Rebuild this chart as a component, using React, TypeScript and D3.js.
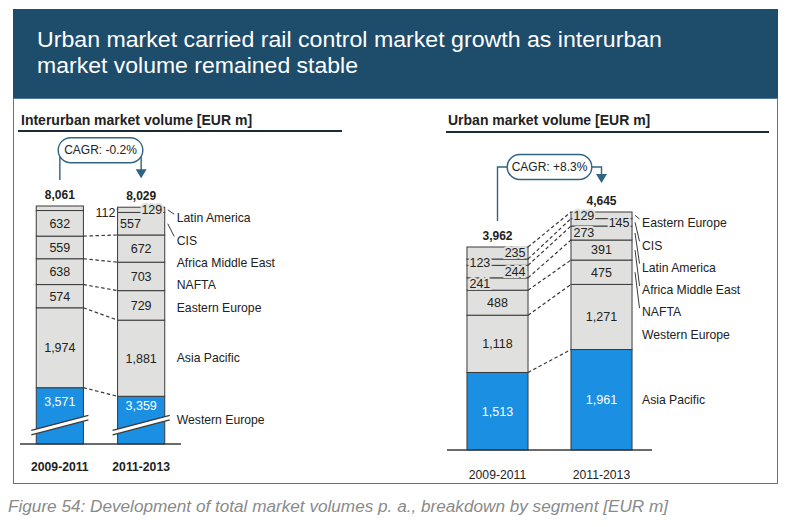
import React from "react";
import * as d3 from "d3";

// ---------- data ----------
const periods = ["2009-2011", "2011-2013"];

// interurban, stacked bottom -> top
const interurbanSegments = ["Western Europe", "Asia Pacific", "Eastern Europe", "NAFTA", "Africa Middle East", "CIS", "Latin America"];
const interurban2009 = [3571, 1974, 574, 638, 559, 632, 112];
const interurban2011 = [3359, 1881, 729, 703, 672, 557, 129];
const interurbanTotals = [8061, 8029];
const interurbanCAGR = "CAGR: -0.2%";

// urban, stacked bottom -> top
const urbanSegments = ["Asia Pacific", "Western Europe", "NAFTA", "Africa Middle East", "Latin America", "CIS", "Eastern Europe"];
const urban2009 = [1513, 1118, 488, 241, 244, 123, 235];
const urban2011 = [1961, 1271, 475, 391, 273, 145, 129];
const urbanTotals = [3962, 4645];
const urbanCAGR = "CAGR: +8.3%";

const titleLines = ["Urban market carried rail control market growth as interurban", "market volume remained stable"];
const interurbanTitle = "Interurban market volume [EUR m]";
const urbanTitle = "Urban market volume [EUR m]";
const caption = "Figure 54: Development of total market volumes p. a., breakdown by segment [EUR m]";

// label placement (style): c = centre, l = left inside, r = right inside, out = outside right
const interurbanAlign = [
  ["c", "c", "c", "c", "c", "c", "out"],
  ["c", "c", "c", "c", "c", "l", "r"],
];
const urbanAlign = [
  ["c", "c", "c", "l", "r", "l", "r"],
  ["c", "c", "c", "c", "l", "r", "l"],
];

// ---------- style ----------
const SANS = "'Liberation Sans',Arial,Helvetica,sans-serif";
const GRAY = "#e0e0de";
const BLUE = "#1b8fe2";
const EDGE = "#3a3a3a";
const TEAL = "#2f6482";
const INK = "#222";
const fmt = d3.format(",");
const NAME_STEP = 22.3;
const NUM_SIZE = 12.5;
const NAME_SIZE = 12.2;
const BREAK_SLOPE = 7.5;
const BREAK_GAP = 4.5;

type PanelProps = {
  series: number[][];
  totals: number[];
  names: string[];
  align: string[][];
  x: d3.ScaleBand<string>;
  y: d3.ScaleLinear<number, number>;
  cagr: string;
  bubbleLift: number;
  breakAt?: number;
  catBold: boolean;
  catGap: number;
  dashAll: boolean;
  leaderMax: number;
  nameGap: number;
};

function Panel(props: PanelProps) {
  const { series, totals, names, align, x, y, cagr, bubbleLift, breakAt, catBold, catGap, dashAll, leaderMax, nameGap } = props;
  const table = periods.map((p, i) => {
    const row: any = { period: p };
    names.forEach((n, j) => (row[n] = series[i][j]));
    return row;
  });
  const stacked = d3.stack<any>().keys(names)(table);
  const n = names.length;
  const bw = x.bandwidth();
  const base = y.range()[0];
  const xs = periods.map((p) => x(p) as number);
  const cs = xs.map((v) => v + bw / 2);
  const [r0, r1] = x.range();
  const tops = stacked[n - 1].map((d) => y(d[1]));
  const breakY = breakAt !== undefined ? y(breakAt) : undefined;

  const elements: any[] = [];

  // segments
  stacked.forEach((layer, j) =>
    layer.forEach((d, i) => {
      elements.push(
        <rect key={`s${j}-${i}`} x={xs[i]} y={y(d[1])} width={bw} height={Math.max(0, y(d[0]) - y(d[1]))}
          fill={j === 0 ? BLUE : GRAY} stroke={EDGE} strokeWidth={1} />
      );
    })
  );

  // axis break
  if (breakY !== undefined) {
    const cy = breakY;
    xs.forEach((bx, i) => {
      const a = bx - 5, b = bx + bw + 5, s = BREAK_SLOPE, t = BREAK_GAP;
      elements.push(
        <g key={`br${i}`}>
          <polygon points={`${a},${cy + s} ${b},${cy - s} ${b},${cy - s + t} ${a},${cy + s + t}`} fill="#fff" />
          <line x1={a} y1={cy + s} x2={b} y2={cy - s} stroke={EDGE} strokeWidth={1.3} />
          <line x1={a} y1={cy + s + t} x2={b} y2={cy - s + t} stroke={EDGE} strokeWidth={1.3} />
        </g>
      );
    });
  }

  // dashed connectors
  stacked.forEach((layer, j) => {
    if (dashAll || j <= n - 3) {
      elements.push(
        <line key={`dl${j}`} x1={xs[0] + bw} y1={y(layer[0][1])} x2={xs[1]} y2={y(layer[1][1])}
          stroke={EDGE} strokeWidth={1.2} strokeDasharray="3.5,2.5" />
      );
    }
  });

  // segment labels
  stacked.forEach((layer, j) =>
    layer.forEach((d, i) => {
      const a = align[i][j];
      let cy = (y(d[0]) + y(d[1])) / 2;
      if (j === 0 && breakY !== undefined) cy = (y(d[1]) + breakY - BREAK_SLOPE) / 2;
      const txt = fmt(series[i][j]);
      const common = { fontFamily: SANS, fontSize: NUM_SIZE, dy: "0.35em" };
      if (a === "c") {
        elements.push(
          <text key={`l${j}-${i}`} x={xs[i] + bw / 2} y={cy} textAnchor="middle" fill={j === 0 ? "#fff" : INK} {...common}>{txt}</text>
        );
      } else if (a === "l" || a === "r") {
        elements.push(
          <text key={`l${j}-${i}`} x={a === "l" ? xs[i] + 2.5 : xs[i] + bw - 2.5} y={cy}
            textAnchor={a === "l" ? "start" : "end"} fill={INK} stroke={GRAY} strokeWidth={4}
            style={{ paintOrder: "stroke" }} {...common}>{txt}</text>
        );
      } else {
        const lx = xs[i] + bw + 12;
        elements.push(
          <text key={`l${j}-${i}`} x={lx} y={cy + 4} textAnchor="start" fill={INK} {...common}>{txt}</text>
        );
        const other = stacked[j][1 - i];
        elements.push(
          <line key={`ol${j}`} x1={lx + 22} y1={cy + 2} x2={xs[1 - i]} y2={(y(other[0]) + y(other[1])) / 2 - 2}
            stroke={EDGE} strokeWidth={1.2} strokeDasharray="3,3" />
        );
      }
    })
  );

  // segment names at right of second bar, top-down
  const nameX = xs[1] + bw + nameGap;
  let prev = tops[1] + 11 - NAME_STEP;
  for (let j = n - 1; j >= 0; j--) {
    const d = stacked[j][1];
    const top = y(d[1]), bot = y(d[0]);
    const center = (top + bot) / 2;
    const ly = Math.max(center, prev + NAME_STEP);
    prev = ly;
    elements.push(
      <text key={`n${j}`} x={nameX} y={ly} dy="0.35em" fontFamily={SANS} fontSize={NAME_SIZE} fill={INK}>{names[j]}</text>
    );
    if (bot - top < leaderMax) {
      elements.push(
        <line key={`ld${j}`} x1={xs[1] + bw + 3} y1={center} x2={nameX - 2.5} y2={ly - 4}
          stroke={EDGE} strokeWidth={1} />
      );
    }
  }

  // baseline
  elements.push(<line key="axis" x1={r0} x2={r1} y1={base} y2={base} stroke={EDGE} strokeWidth={1.3} />);

  // category labels
  periods.forEach((p, i) =>
    elements.push(
      <text key={`c${i}`} x={cs[i]} y={base + catGap} textAnchor="middle" fontFamily={SANS} fontSize={12.2}
        fontWeight={catBold ? "bold" : "normal"} fill={INK}>{p}</text>
    )
  );

  // totals
  totals.forEach((t, i) =>
    elements.push(
      <text key={`t${i}`} x={cs[i]} y={tops[i] - 7} textAnchor="middle" fontFamily={SANS} fontSize={12}
        fontWeight="bold" fill={INK}>{fmt(t)}</text>
    )
  );

  // CAGR bubble with connector and arrow
  const tip = tops[1] - 29;
  const by = tip - bubbleLift;
  const bwid = cagr.length * 6.6 + 12;
  const bh = 25;
  const bcx = (cs[0] + cs[1]) / 2;
  elements.push(
    <g key="cagr">
      <polyline points={`${cs[0]},${tops[0] - 26} ${cs[0]},${by} ${bcx},${by}`} fill="none" stroke={TEAL} strokeWidth={1.4} />
      <polyline points={`${bcx},${by} ${cs[1]},${by} ${cs[1]},${tip - 8}`} fill="none" stroke={TEAL} strokeWidth={1.4} />
      <path d={`M${cs[1] - 5.5},${tip - 9} L${cs[1] + 5.5},${tip - 9} L${cs[1]},${tip} Z`} fill={TEAL} />
      <rect x={bcx - bwid / 2} y={by - bh / 2} width={bwid} height={bh} rx={bh / 2} fill="#fff" stroke={TEAL} strokeWidth={1.4} />
      <text x={bcx} y={by} dy="0.35em" textAnchor="middle" fontFamily={SANS} fontSize={12} fill={INK}>{cagr}</text>
    </g>
  );

  return <g>{elements}</g>;
}

export default function App() {
  const W = 791, H = 527;

  // interurban: axis break hides the lower part of the Western Europe segment
  const interurbanHidden = 2180;
  const interurbanBreak = 2700;
  const xI = d3.scaleBand<string>().domain(periods).range([20, 181]).paddingInner(0.42).paddingOuter(0.2);
  const yI = d3.scaleLinear().domain([interurbanHidden, d3.max([d3.sum(interurban2009), d3.sum(interurban2011)]) as number])
    .range([444, 206]).clamp(true);

  const xU = d3.scaleBand<string>().domain(periods).range([447, 652]).paddingInner(0.413).paddingOuter(0.192);
  const yU = d3.scaleLinear().domain([0, d3.max([d3.sum(urban2009), d3.sum(urban2011)]) as number]).range([450, 212]);

  return (
    <svg width={W} height={H} style={{ position: "absolute", left: 0, top: 0, background: "#fff" }}>
      <rect x={0} y={0} width={W} height={H} fill="#fff" />
      {/* header */}
      <rect x={13} y={9} width={765} height={90} fill="#1e4c6b" />
      <text x={37} y={47} fontFamily={SANS} fontSize={22.5} fill="#fff" textLength={625} lengthAdjust="spacingAndGlyphs">{titleLines[0]}</text>
      <text x={37} y={73} fontFamily={SANS} fontSize={22.5} fill="#fff" textLength={321} lengthAdjust="spacingAndGlyphs">{titleLines[1]}</text>
      {/* panel */}
      <rect x={13.5} y={98.5} width={764} height={385} fill="#fff" stroke="#4b79a0" strokeWidth={1} />
      <text x={21} y={125} fontFamily={SANS} fontSize={14} fontWeight="bold" fill={INK}>{interurbanTitle}</text>
      <line x1={18} x2={342} y1={131} y2={131} stroke="#1c2b3a" strokeWidth={2} />
      <text x={448} y={125} fontFamily={SANS} fontSize={14} fontWeight="bold" fill={INK}>{urbanTitle}</text>
      <line x1={446} x2={769} y1={132} y2={132} stroke="#1c2b3a" strokeWidth={2} />

      <Panel series={[interurban2009, interurban2011]} totals={interurbanTotals} names={interurbanSegments} align={interurbanAlign}
        x={xI} y={yI} cagr={interurbanCAGR} bubbleLift={28} breakAt={interurbanBreak} catBold={true} catGap={27}
        dashAll={false} leaderMax={25} nameGap={12} />
      <Panel series={[urban2009, urban2011]} totals={urbanTotals} names={urbanSegments} align={urbanAlign}
        x={xU} y={yU} cagr={urbanCAGR} bubbleLift={16} catBold={false} catGap={29}
        dashAll={true} leaderMax={25} nameGap={10} />

      <text x={8} y={512} fontFamily={SANS} fontSize={16} fontStyle="italic" fill="#8a8a8a" textLength={660} lengthAdjust="spacingAndGlyphs">{caption}</text>
    </svg>
  );
}
